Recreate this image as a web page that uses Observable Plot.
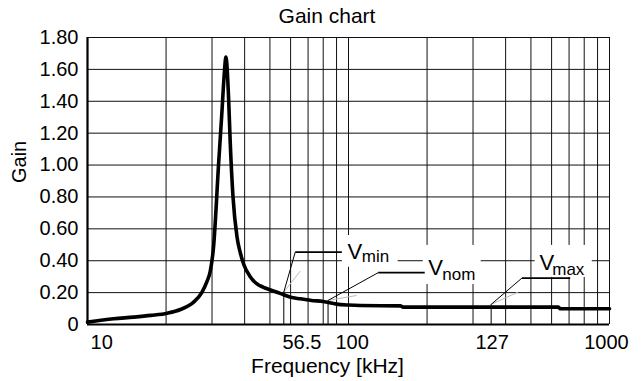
<!DOCTYPE html>
<html>
<head>
<meta charset="utf-8">
<script src="https://cdn.jsdelivr.net/npm/d3@7"></script>
<script src="https://cdn.jsdelivr.net/npm/@observablehq/plot@0.6"></script>
<style>
  html, body { margin: 0; padding: 0; background: #fff; }
  #chart svg { display: block; }
</style>
</head>
<body>
<div id="chart"></div>
<script>
// ---- data ----
const freq = [10, 12.6, 15, 17.5, 20.2, 22.7, 25.5, 27.4, 28.7, 29.5, 30.4, 31.8, 32.7, 33.5, 33.9, 34.7, 35.2, 36.1, 37.4, 38.5, 39.6, 42.0, 44.6, 47, 50, 54.7, 60, 65.3, 72, 80, 90, 100, 111, 158, 162, 250, 400, 637, 647, 1000];
const gain = [0.015, 0.036, 0.046, 0.057, 0.071, 0.094, 0.14, 0.20, 0.27, 0.33, 0.485, 1.01, 1.32, 1.594, 1.678, 1.43, 1.155, 0.80, 0.548, 0.45, 0.381, 0.30, 0.255, 0.235, 0.218, 0.195, 0.171, 0.161, 0.151, 0.144, 0.128, 0.122, 0.119, 0.117, 0.109, 0.109, 0.109, 0.109, 0.099, 0.099];

const yTicks = [0, 0.2, 0.4, 0.6, 0.8, 1.0, 1.2, 1.4, 1.6, 1.8];
const yTickLabels = ["0", "0.20", "0.40", "0.60", "0.80", "1.00", "1.20", "1.40", "1.60", "1.80"];
const xGrid = [10, 20, 30, 40, 50, 60, 70, 80, 90, 100, 200, 300, 400, 500, 600, 700, 800, 900, 1000];
const xLabelAt = [11.33, 66.3, 103.3, 355, 973];
const xLabels = ["10", "56.5", "100", "127", "1000"];

// annotation markers: name, marker frequency, gain at marker
const markerNames = ["min", "nom", "max"];
const markerFreq = [56.5, 83.5, 352];
const markerGain = [0.203, 0.151, 0.126];
// callout elbows/ends (freq, gain)
const elbowFreq = [62.5, 129.9, 461.7];
const elbowGain = [0.454, 0.325, 0.291];
const endFreq = [94.3, 195.9, 707];
// faint grey shadow lines
const shadowEndFreq = [65.3, 107.4, 446];
const shadowEndGain = [0.335, 0.182, 0.203];
// label boxes (freq range, gain range)
const boxF1 = [94.8, 193.3, 519];
const boxF2 = [155, 322.4, 859];
const boxG1 = [0.359, 0.251, 0.295];
const boxG2 = [0.558, 0.496, 0.496];
// label text anchors
const vFreq = [99.1, 202, 539.4];
const vGain = [0.412, 0.308, 0.339];
const subFreq = [112.5, 228.6, 603.3];
const subGain = [0.391, 0.281, 0.308];

const curve = freq.map((f, i) => ({f, g: gain[i]}));
const ann = markerNames.map((n, i) => ({
  n, f: markerFreq[i], g: markerGain[i],
  ef: elbowFreq[i], eg: elbowGain[i], xf: endFreq[i],
  sf: shadowEndFreq[i], sg: shadowEndGain[i],
  bf1: boxF1[i], bf2: boxF2[i], bg1: boxG1[i], bg2: boxG2[i],
  vf: vFreq[i], vg: vGain[i], tf: subFreq[i], tg: subGain[i]
}));

const font = "'Liberation Sans', Arial, Helvetica, sans-serif";

const chart = Plot.plot({
  width: 644,
  height: 381,
  marginLeft: 87,
  marginRight: 35,
  marginTop: 37,
  marginBottom: 57,
  x: {type: "log", domain: [10, 1000], axis: null},
  y: {domain: [0, 1.8], axis: null},
  style: {fontFamily: font, background: "#fff", color: "#000", overflow: "visible"},
  marks: [
    Plot.ruleY(yTicks, {stroke: "#111", strokeWidth: 1}),
    Plot.ruleX(xGrid, {stroke: "#111", strokeWidth: 1}),
    Plot.rect(ann, {x1: "bf1", x2: "bf2", y1: "bg1", y2: "bg2", fill: "#fff"}),
    Plot.ruleX([10], {stroke: "#000", strokeWidth: 2.2}),
    Plot.ruleY([0], {stroke: "#000", strokeWidth: 2.2}),
    // markers
    Plot.ruleX(ann, {x: "f", y1: 0, y2: "g", stroke: "#000", strokeWidth: 1}),
    // shadow lines
    Plot.link(ann, {x1: "f", y1: "g", x2: "sf", y2: "sg", stroke: "#bbb", strokeWidth: 1}),
    // callouts
    Plot.link(ann, {x1: "f", y1: "g", x2: "ef", y2: "eg", stroke: "#000", strokeWidth: 1}),
    Plot.link(ann, {x1: "ef", y1: "eg", x2: "xf", y2: "eg", stroke: "#000", strokeWidth: 1.8}),
    // gain curve
    Plot.line(curve, {x: "f", y: "g", curve: "monotone-x", stroke: "#000", strokeWidth: 3.6, strokeLinejoin: "round", strokeLinecap: "round"}),
    // annotation labels
    Plot.text(ann, {x: "vf", y: "vg", text: () => "V", textAnchor: "start", lineAnchor: "bottom", fontSize: 22, fill: "#000"}),
    Plot.text(ann, {x: "tf", y: "tg", text: "n", textAnchor: "start", lineAnchor: "bottom", fontSize: 17, fill: "#000"}),
    // y tick labels
    Plot.text(yTicks, {y: d => d, text: (d, i) => yTickLabels[i], frameAnchor: "left", textAnchor: "end", dx: -9, fontSize: 20, fill: "#000"}),
    // x tick labels
    Plot.text(xLabelAt, {x: d => d, text: (d, i) => xLabels[i], frameAnchor: "bottom", lineAnchor: "bottom", dy: 24, fontSize: 20, fill: "#000"}),
    // axis titles and chart title
    Plot.text(["Frequency [kHz]"], {frameAnchor: "bottom", lineAnchor: "bottom", dy: 48, dx: -21, fontSize: 21, fill: "#000"}),
    Plot.text(["Gain"], {frameAnchor: "left", rotate: -90, dx: -68, dy: 2, fontSize: 20, fill: "#000"}),
    Plot.text(["Gain chart"], {frameAnchor: "top", lineAnchor: "bottom", dy: -14.6, dx: -21.5, fontSize: 21, fill: "#000"})
  ]
});

document.getElementById("chart").appendChild(chart);
</script>
</body>
</html>
